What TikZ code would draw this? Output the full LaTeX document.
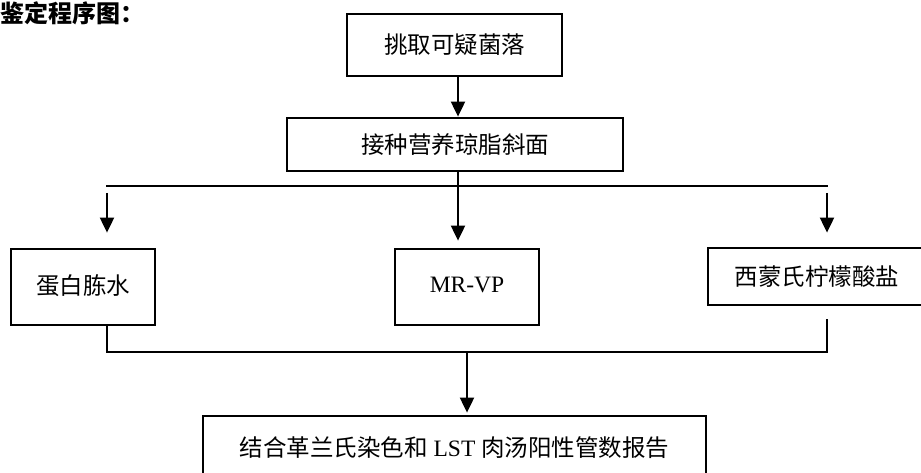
\documentclass[tikz,border=0pt]{standalone}
\usepackage{fontspec}
\setmainfont{Liberation Serif}
\newfontfamily\cjk{Noto Sans CJK SC}
\usetikzlibrary{arrows.meta}
\newcommand{\zh}[1]{{\cjk #1}}
\begin{document}
\begin{tikzpicture}[x=1pt,y=-1pt,
  box/.style={draw,line width=2.8pt,inner sep=0pt,font=\fontsize{23.5}{27}\selectfont},
  thin/.style={line width=1.3pt},
  arr/.style={line width=2pt,-{Triangle[width=14pt,length=15pt]}}]
\useasboundingbox (0,0) rectangle (921,473);
\node[anchor=north west,inner sep=0pt,font=\fontsize{24}{28}\selectfont\bfseries] (title) at (0,1) {\zh{鉴定程序图：}};
\node[box,minimum width=215pt,minimum height=62pt] (b1) at (454.5,45) {\zh{挑取可疑菌落}};
\node[box,minimum width=336pt,minimum height=53pt] (b2) at (455,144.5) {\zh{接种营养琼脂斜面}};
\node[box,minimum width=144pt,minimum height=76pt] (l) at (83,287) {\raisebox{4pt}{\zh{蛋白胨水}}};
\node[box,minimum width=144pt,minimum height=76pt] (m) at (467,287) {\raisebox{4pt}{MR-VP}};
\node[box,minimum width=218pt,minimum height=57pt] (r) at (817,276.5) {\raisebox{-2pt}{\zh{西蒙氏柠檬酸盐}}};
\node[box,minimum width=503pt,minimum height=64pt] (b) at (454.5,448) {\zh{结合革兰氏染色和} LST \zh{肉汤阳性管数报告}};
% columns
\coordinate (c1) at (458,0);
\coordinate (cl) at (107,0);
\coordinate (cr) at (827,0);
\coordinate (cb) at (467,0);
\coordinate (topbus) at (0,186);
\coordinate (botbus) at (0,352);
% first arrow
\draw[arr] (c1 |- b1.south) -- (c1 |- b2.north);
% top branching
\draw[thin] (c1 |- b2.south) -- (c1 |- topbus);
\draw[thin] ([xshift=-1pt]cl |- topbus) -- ([xshift=1pt]cr |- topbus);
\draw[arr] (c1 |- topbus) -- ([yshift=7pt]c1 |- m.north);
\draw[arr] ([yshift=-7pt]cl |- topbus) -- ([yshift=15pt]cl |- l.north);
\draw[arr] ([yshift=-7pt]cr |- topbus) -- ([yshift=14pt]cr |- r.north);
% bottom merge
\draw[thin] (cl |- l.south) -- (cl |- botbus);
\draw[thin] ([yshift=-13pt]cr |- r.south) -- (cr |- botbus);
\draw[thin] ([xshift=-0.6pt]cl |- botbus) -- ([xshift=0.6pt]cr |- botbus);
\draw[arr] (cb |- botbus) -- ([yshift=2pt]cb |- b.north);
\end{tikzpicture}
\end{document}
